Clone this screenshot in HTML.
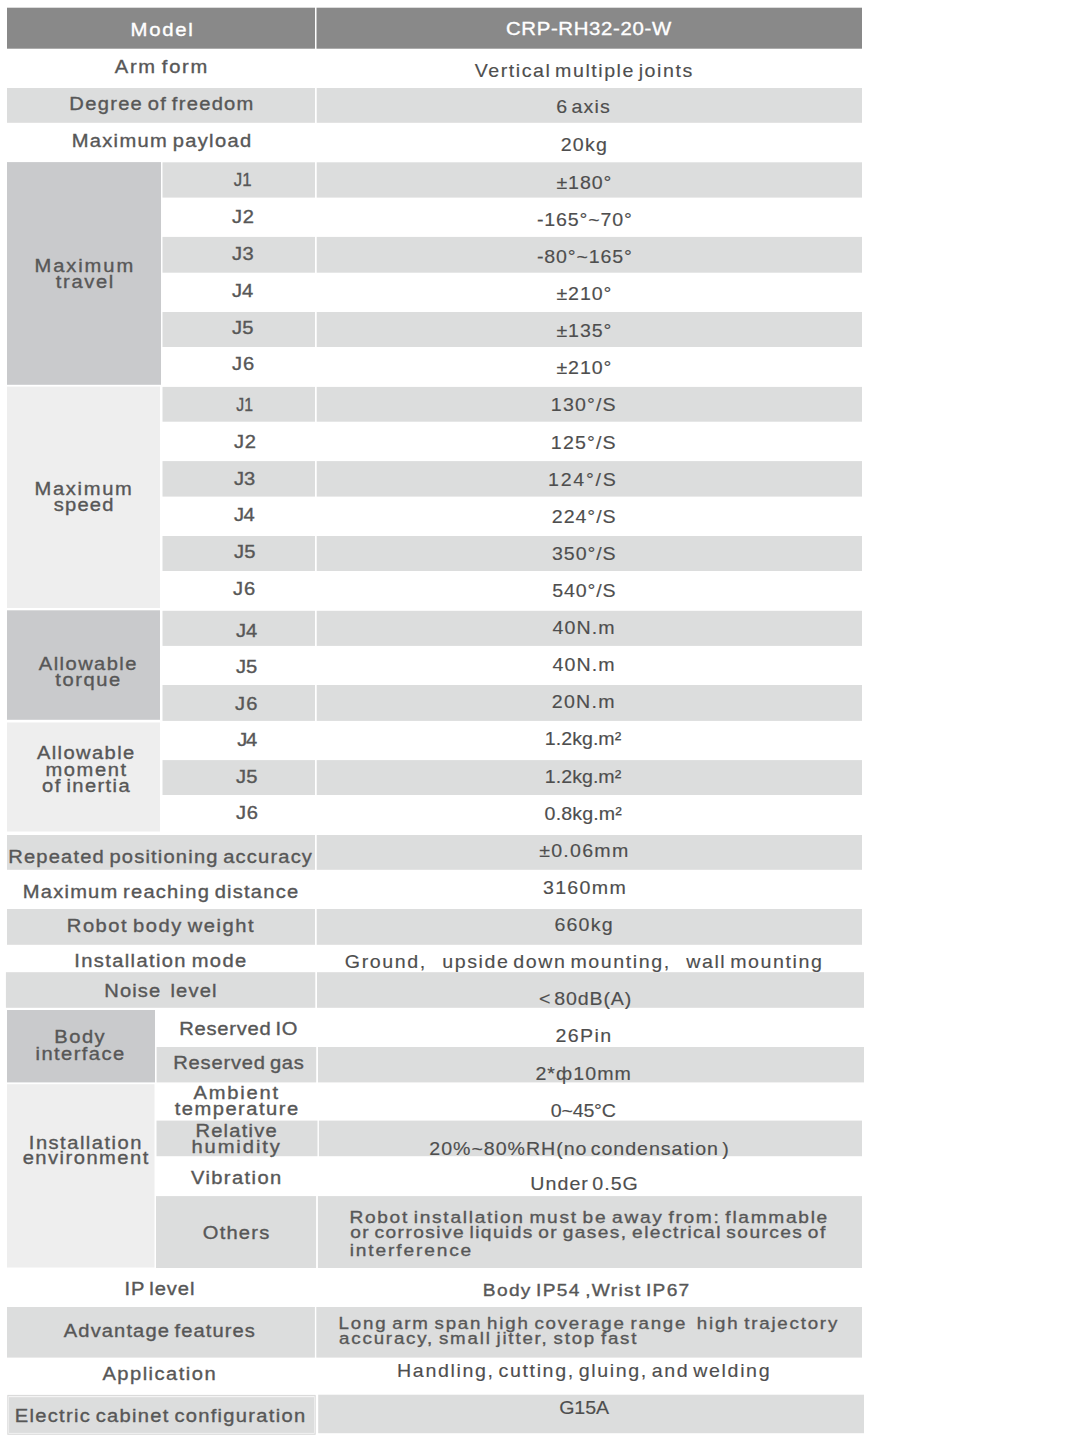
<!DOCTYPE html><html><head><meta charset="utf-8"><style>html,body{margin:0;padding:0;background:#fff;width:1084px;height:1444px;overflow:hidden}svg{display:block}text{font-family:"Liberation Sans",sans-serif;white-space:pre}</style></head><body>
<svg width="1084" height="1444" viewBox="0 0 1084 1444">
<rect x="7.00" y="7.70" width="308.00" height="41.00" fill="#898989"/>
<rect x="316.50" y="7.70" width="545.50" height="41.00" fill="#898989"/>
<rect x="7.00" y="88.00" width="308.00" height="34.80" fill="#dcdddd"/>
<rect x="316.70" y="88.00" width="545.30" height="34.80" fill="#dcdddd"/>
<rect x="7.00" y="162.10" width="154.00" height="222.70" fill="#c9cacc"/>
<rect x="162.50" y="162.30" width="152.50" height="35.30" fill="#dcdddd"/>
<rect x="316.70" y="162.30" width="545.30" height="35.30" fill="#dcdddd"/>
<rect x="162.50" y="236.90" width="152.50" height="35.80" fill="#dcdddd"/>
<rect x="316.70" y="236.90" width="545.30" height="35.80" fill="#dcdddd"/>
<rect x="162.50" y="312.00" width="152.50" height="35.00" fill="#dcdddd"/>
<rect x="316.70" y="312.00" width="545.30" height="35.00" fill="#dcdddd"/>
<rect x="7.00" y="386.60" width="153.00" height="221.40" fill="#eeeeee"/>
<rect x="162.50" y="386.90" width="152.50" height="34.80" fill="#dcdddd"/>
<rect x="316.70" y="386.90" width="545.30" height="34.80" fill="#dcdddd"/>
<rect x="162.50" y="461.10" width="152.50" height="35.50" fill="#dcdddd"/>
<rect x="316.70" y="461.10" width="545.30" height="35.50" fill="#dcdddd"/>
<rect x="162.50" y="536.00" width="152.50" height="35.00" fill="#dcdddd"/>
<rect x="316.70" y="536.00" width="545.30" height="35.00" fill="#dcdddd"/>
<rect x="7.00" y="610.30" width="153.00" height="109.50" fill="#c9cacc"/>
<rect x="162.50" y="610.80" width="152.50" height="35.10" fill="#dcdddd"/>
<rect x="316.70" y="610.80" width="545.30" height="35.10" fill="#dcdddd"/>
<rect x="162.50" y="685.00" width="152.50" height="35.90" fill="#dcdddd"/>
<rect x="316.70" y="685.00" width="545.30" height="35.90" fill="#dcdddd"/>
<rect x="7.00" y="722.50" width="153.00" height="109.00" fill="#eeeeee"/>
<rect x="162.50" y="760.10" width="152.50" height="34.90" fill="#dcdddd"/>
<rect x="316.70" y="760.10" width="545.30" height="34.90" fill="#dcdddd"/>
<rect x="7.00" y="835.00" width="308.00" height="34.80" fill="#dcdddd"/>
<rect x="316.70" y="835.00" width="545.30" height="34.80" fill="#dcdddd"/>
<rect x="7.00" y="909.00" width="308.00" height="35.80" fill="#dcdddd"/>
<rect x="316.70" y="909.00" width="545.30" height="35.80" fill="#dcdddd"/>
<rect x="5.90" y="972.20" width="309.40" height="35.60" fill="#dcdddd"/>
<rect x="317.00" y="972.20" width="547.00" height="35.60" fill="#dcdddd"/>
<rect x="7.00" y="1010.00" width="148.00" height="72.40" fill="#c9cacc"/>
<rect x="156.60" y="1047.00" width="159.60" height="35.40" fill="#dcdddd"/>
<rect x="318.00" y="1047.00" width="546.00" height="35.40" fill="#dcdddd"/>
<rect x="7.00" y="1084.20" width="147.50" height="183.30" fill="#eeeeee"/>
<rect x="156.50" y="1120.60" width="161.00" height="35.60" fill="#dcdddd"/>
<rect x="318.90" y="1120.60" width="543.10" height="35.60" fill="#dcdddd"/>
<rect x="156.00" y="1196.10" width="160.10" height="71.90" fill="#dcdddd"/>
<rect x="317.90" y="1196.10" width="544.10" height="71.90" fill="#dcdddd"/>
<rect x="7.00" y="1307.00" width="307.90" height="50.60" fill="#dcdddd"/>
<rect x="316.30" y="1307.00" width="545.70" height="50.60" fill="#dcdddd"/>
<rect x="7.30" y="1394.90" width="308.40" height="39.90" fill="#d9d9d9"/>
<rect x="8.30" y="1395.90" width="306.40" height="37.90" fill="#f4f4f4"/>
<rect x="9.00" y="1397.20" width="305.00" height="35.70" fill="#dcdddd"/>
<rect x="318.20" y="1394.70" width="545.80" height="38.50" fill="#dcdddd"/>
<text transform="translate(130.51 36.10) scale(1.100 1)" font-size="18.50" fill="#ffffff" stroke="#ffffff" stroke-width="0.35" word-spacing="-2.0" textLength="56.54" lengthAdjust="spacing">Model</text>
<text transform="translate(505.91 35.20) scale(1.100 1)" font-size="18.50" fill="#ffffff" stroke="#ffffff" stroke-width="0.35" word-spacing="-2.0" textLength="150.24" lengthAdjust="spacing">CRP-RH32-20-W</text>
<text transform="translate(114.85 73.00) scale(1.100 1)" font-size="18.30" fill="#575757" stroke="#575757" stroke-width="0.35" word-spacing="-2.0" textLength="83.92" lengthAdjust="spacing">Arm form</text>
<text transform="translate(474.73 76.70) scale(1.060 1)" font-size="18.50" fill="#4e4e4e" stroke="#4e4e4e" stroke-width="0.15" word-spacing="-3.0" textLength="205.15" lengthAdjust="spacing">Vertical multiple joints</text>
<text transform="translate(69.37 109.80) scale(1.100 1)" font-size="18.30" fill="#575757" stroke="#575757" stroke-width="0.35" word-spacing="-2.0" textLength="167.27" lengthAdjust="spacing">Degree of freedom</text>
<text transform="translate(556.19 113.10) scale(1.060 1)" font-size="18.50" fill="#4e4e4e" stroke="#4e4e4e" stroke-width="0.15" word-spacing="-3.0" textLength="50.58" lengthAdjust="spacing">6 axis</text>
<text transform="translate(71.71 146.90) scale(1.100 1)" font-size="18.30" fill="#575757" stroke="#575757" stroke-width="0.35" word-spacing="-2.0" textLength="163.07" lengthAdjust="spacing">Maximum payload</text>
<text transform="translate(560.76 151.00) scale(1.060 1)" font-size="18.50" fill="#4e4e4e" stroke="#4e4e4e" stroke-width="0.15" word-spacing="-3.0" textLength="43.44" lengthAdjust="spacing">20kg</text>
<text transform="translate(34.50 272.20) scale(1.100 1)" font-size="18.30" fill="#575757" stroke="#575757" stroke-width="0.35" word-spacing="-2.0" textLength="89.69" lengthAdjust="spacing">Maximum</text>
<text transform="translate(55.87 287.50) scale(1.100 1)" font-size="18.30" fill="#575757" stroke="#575757" stroke-width="0.35" word-spacing="-2.0" textLength="52.20" lengthAdjust="spacing">travel</text>
<text transform="translate(233.86 186.00) scale(1.000 1)" font-size="18.30" fill="#575757" stroke="#575757" stroke-width="0.35" word-spacing="-2.0" textLength="17.76" lengthAdjust="spacingAndGlyphs">J1</text>
<text transform="translate(556.45 189.00) scale(1.060 1)" font-size="18.50" fill="#4e4e4e" stroke="#4e4e4e" stroke-width="0.15" word-spacing="-3.0" textLength="51.75" lengthAdjust="spacing">±180°</text>
<text transform="translate(232.09 222.70) scale(1.100 1)" font-size="18.30" fill="#575757" stroke="#575757" stroke-width="0.35" word-spacing="-2.0" textLength="19.91" lengthAdjust="spacing">J2</text>
<text transform="translate(536.91 226.00) scale(1.060 1)" font-size="18.50" fill="#4e4e4e" stroke="#4e4e4e" stroke-width="0.15" word-spacing="-3.0" textLength="89.60" lengthAdjust="spacing">-165°~70°</text>
<text transform="translate(232.11 259.90) scale(1.100 1)" font-size="18.30" fill="#575757" stroke="#575757" stroke-width="0.35" word-spacing="-2.0" textLength="19.56" lengthAdjust="spacing">J3</text>
<text transform="translate(536.91 263.10) scale(1.060 1)" font-size="18.50" fill="#4e4e4e" stroke="#4e4e4e" stroke-width="0.15" word-spacing="-3.0" textLength="89.60" lengthAdjust="spacing">-80°~165°</text>
<text transform="translate(232.11 296.70) scale(1.100 1)" font-size="18.30" fill="#575757" stroke="#575757" stroke-width="0.35" word-spacing="-2.0" textLength="19.20" lengthAdjust="spacing">J4</text>
<text transform="translate(556.45 300.00) scale(1.060 1)" font-size="18.50" fill="#4e4e4e" stroke="#4e4e4e" stroke-width="0.15" word-spacing="-3.0" textLength="51.75" lengthAdjust="spacing">±210°</text>
<text transform="translate(232.11 333.50) scale(1.100 1)" font-size="18.30" fill="#575757" stroke="#575757" stroke-width="0.35" word-spacing="-2.0" textLength="19.43" lengthAdjust="spacing">J5</text>
<text transform="translate(556.45 336.60) scale(1.060 1)" font-size="18.50" fill="#4e4e4e" stroke="#4e4e4e" stroke-width="0.15" word-spacing="-3.0" textLength="51.75" lengthAdjust="spacing">±135°</text>
<text transform="translate(232.11 370.30) scale(1.100 1)" font-size="18.30" fill="#575757" stroke="#575757" stroke-width="0.35" word-spacing="-2.0" textLength="20.02" lengthAdjust="spacing">J6</text>
<text transform="translate(556.45 373.50) scale(1.060 1)" font-size="18.50" fill="#4e4e4e" stroke="#4e4e4e" stroke-width="0.15" word-spacing="-3.0" textLength="51.75" lengthAdjust="spacing">±210°</text>
<text transform="translate(34.50 495.10) scale(1.100 1)" font-size="18.30" fill="#575757" stroke="#575757" stroke-width="0.35" word-spacing="-2.0" textLength="88.52" lengthAdjust="spacing">Maximum</text>
<text transform="translate(53.84 510.50) scale(1.100 1)" font-size="18.30" fill="#575757" stroke="#575757" stroke-width="0.35" word-spacing="-2.0" textLength="54.12" lengthAdjust="spacing">speed</text>
<text transform="translate(236.34 410.80) scale(1.000 1)" font-size="18.30" fill="#575757" stroke="#575757" stroke-width="0.35" word-spacing="-2.0" textLength="16.69" lengthAdjust="spacingAndGlyphs">J1</text>
<text transform="translate(550.86 410.90) scale(1.060 1)" font-size="18.50" fill="#4e4e4e" stroke="#4e4e4e" stroke-width="0.15" word-spacing="-3.0" textLength="61.18" lengthAdjust="spacing">130°/S</text>
<text transform="translate(234.09 447.80) scale(1.100 1)" font-size="18.30" fill="#575757" stroke="#575757" stroke-width="0.35" word-spacing="-2.0" textLength="19.77" lengthAdjust="spacing">J2</text>
<text transform="translate(550.86 448.60) scale(1.060 1)" font-size="18.50" fill="#4e4e4e" stroke="#4e4e4e" stroke-width="0.15" word-spacing="-3.0" textLength="61.18" lengthAdjust="spacing">125°/S</text>
<text transform="translate(234.09 484.50) scale(1.100 1)" font-size="18.30" fill="#575757" stroke="#575757" stroke-width="0.35" word-spacing="-2.0" textLength="19.16" lengthAdjust="spacing">J3</text>
<text transform="translate(548.11 485.50) scale(1.060 1)" font-size="18.50" fill="#4e4e4e" stroke="#4e4e4e" stroke-width="0.15" word-spacing="-3.0" textLength="63.78" lengthAdjust="spacing">124°/S</text>
<text transform="translate(234.09 520.80) scale(1.100 1)" font-size="18.30" fill="#575757" stroke="#575757" stroke-width="0.35" word-spacing="-2.0" textLength="18.85" lengthAdjust="spacing">J4</text>
<text transform="translate(551.77 523.00) scale(1.060 1)" font-size="18.50" fill="#4e4e4e" stroke="#4e4e4e" stroke-width="0.15" word-spacing="-3.0" textLength="60.32" lengthAdjust="spacing">224°/S</text>
<text transform="translate(234.09 557.80) scale(1.100 1)" font-size="18.30" fill="#575757" stroke="#575757" stroke-width="0.35" word-spacing="-2.0" textLength="19.45" lengthAdjust="spacing">J5</text>
<text transform="translate(552.00 559.60) scale(1.060 1)" font-size="18.50" fill="#4e4e4e" stroke="#4e4e4e" stroke-width="0.15" word-spacing="-3.0" textLength="60.10" lengthAdjust="spacing">350°/S</text>
<text transform="translate(233.11 594.60) scale(1.100 1)" font-size="18.30" fill="#575757" stroke="#575757" stroke-width="0.35" word-spacing="-2.0" textLength="20.02" lengthAdjust="spacing">J6</text>
<text transform="translate(552.17 596.80) scale(1.060 1)" font-size="18.50" fill="#4e4e4e" stroke="#4e4e4e" stroke-width="0.15" word-spacing="-3.0" textLength="59.94" lengthAdjust="spacing">540°/S</text>
<text transform="translate(38.87 670.00) scale(1.100 1)" font-size="18.30" fill="#575757" stroke="#575757" stroke-width="0.35" word-spacing="-2.0" textLength="88.70" lengthAdjust="spacing">Allowable</text>
<text transform="translate(55.26 685.60) scale(1.100 1)" font-size="18.30" fill="#575757" stroke="#575757" stroke-width="0.35" word-spacing="-2.0" textLength="58.98" lengthAdjust="spacing">torque</text>
<text transform="translate(236.09 636.70) scale(1.100 1)" font-size="18.30" fill="#575757" stroke="#575757" stroke-width="0.35" word-spacing="-2.0" textLength="19.09" lengthAdjust="spacing">J4</text>
<text transform="translate(552.56 633.50) scale(1.060 1)" font-size="18.50" fill="#4e4e4e" stroke="#4e4e4e" stroke-width="0.15" word-spacing="-3.0" textLength="58.47" lengthAdjust="spacing">40N.m</text>
<text transform="translate(236.09 673.00) scale(1.100 1)" font-size="18.30" fill="#575757" stroke="#575757" stroke-width="0.35" word-spacing="-2.0" textLength="19.27" lengthAdjust="spacing">J5</text>
<text transform="translate(552.56 671.00) scale(1.060 1)" font-size="18.50" fill="#4e4e4e" stroke="#4e4e4e" stroke-width="0.15" word-spacing="-3.0" textLength="58.47" lengthAdjust="spacing">40N.m</text>
<text transform="translate(235.09 710.30) scale(1.100 1)" font-size="18.30" fill="#575757" stroke="#575757" stroke-width="0.35" word-spacing="-2.0" textLength="20.32" lengthAdjust="spacing">J6</text>
<text transform="translate(551.77 707.60) scale(1.060 1)" font-size="18.50" fill="#4e4e4e" stroke="#4e4e4e" stroke-width="0.15" word-spacing="-3.0" textLength="59.22" lengthAdjust="spacing">20N.m</text>
<text transform="translate(36.93 758.80) scale(1.100 1)" font-size="18.30" fill="#575757" stroke="#575757" stroke-width="0.35" word-spacing="-2.0" textLength="88.48" lengthAdjust="spacing">Allowable</text>
<text transform="translate(45.49 775.60) scale(1.100 1)" font-size="18.30" fill="#575757" stroke="#575757" stroke-width="0.35" word-spacing="-2.0" textLength="73.26" lengthAdjust="spacing">moment</text>
<text transform="translate(42.09 791.90) scale(1.100 1)" font-size="18.30" fill="#575757" stroke="#575757" stroke-width="0.35" word-spacing="-2.0" textLength="79.58" lengthAdjust="spacing">of inertia</text>
<text transform="translate(237.17 745.70) scale(1.100 1)" font-size="18.30" fill="#575757" stroke="#575757" stroke-width="0.35" word-spacing="-2.0" textLength="18.11" lengthAdjust="spacing">J4</text>
<text transform="translate(544.86 745.10) scale(1.060 1)" font-size="18.50" fill="#4e4e4e" stroke="#4e4e4e" stroke-width="0.15" word-spacing="-3.0" textLength="72.07" lengthAdjust="spacing">1.2kg.m²</text>
<text transform="translate(236.09 782.50) scale(1.100 1)" font-size="18.30" fill="#575757" stroke="#575757" stroke-width="0.35" word-spacing="-2.0" textLength="19.51" lengthAdjust="spacing">J5</text>
<text transform="translate(544.86 782.70) scale(1.060 1)" font-size="18.50" fill="#4e4e4e" stroke="#4e4e4e" stroke-width="0.15" word-spacing="-3.0" textLength="72.07" lengthAdjust="spacing">1.2kg.m²</text>
<text transform="translate(236.09 819.40) scale(1.100 1)" font-size="18.30" fill="#575757" stroke="#575757" stroke-width="0.35" word-spacing="-2.0" textLength="19.98" lengthAdjust="spacing">J6</text>
<text transform="translate(544.62 819.80) scale(1.060 1)" font-size="18.50" fill="#4e4e4e" stroke="#4e4e4e" stroke-width="0.15" word-spacing="-3.0" textLength="72.80" lengthAdjust="spacing">0.8kg.m²</text>
<text transform="translate(8.23 863.00) scale(1.100 1)" font-size="18.30" fill="#575757" stroke="#575757" stroke-width="0.35" word-spacing="-2.0" textLength="276.08" lengthAdjust="spacing">Repeated positioning accuracy</text>
<text transform="translate(539.22 857.00) scale(1.060 1)" font-size="18.50" fill="#4e4e4e" stroke="#4e4e4e" stroke-width="0.15" word-spacing="-3.0" textLength="83.99" lengthAdjust="spacing">±0.06mm</text>
<text transform="translate(22.80 897.90) scale(1.100 1)" font-size="18.30" fill="#575757" stroke="#575757" stroke-width="0.35" word-spacing="-2.0" textLength="250.31" lengthAdjust="spacing">Maximum reaching distance</text>
<text transform="translate(542.99 893.90) scale(1.060 1)" font-size="18.50" fill="#4e4e4e" stroke="#4e4e4e" stroke-width="0.15" word-spacing="-3.0" textLength="78.06" lengthAdjust="spacing">3160mm</text>
<text transform="translate(66.85 931.80) scale(1.100 1)" font-size="18.30" fill="#575757" stroke="#575757" stroke-width="0.35" word-spacing="-2.0" textLength="169.68" lengthAdjust="spacing">Robot body weight</text>
<text transform="translate(554.45 930.50) scale(1.060 1)" font-size="18.50" fill="#4e4e4e" stroke="#4e4e4e" stroke-width="0.15" word-spacing="-3.0" textLength="54.86" lengthAdjust="spacing">660kg</text>
<text transform="translate(74.26 966.70) scale(1.100 1)" font-size="18.30" fill="#575757" stroke="#575757" stroke-width="0.35" word-spacing="-2.0" textLength="156.26" lengthAdjust="spacing">Installation mode</text>
<text transform="translate(344.87 967.60) scale(1.060 1)" font-size="18.50" fill="#4e4e4e" stroke="#4e4e4e" stroke-width="0.15" word-spacing="-3.0" textLength="450.05" lengthAdjust="spacing">Ground,    upside down mounting,    wall mounting</text>
<text transform="translate(104.23 996.80) scale(1.100 1)" font-size="18.30" fill="#575757" stroke="#575757" stroke-width="0.35" word-spacing="-2.0" textLength="102.07" lengthAdjust="spacing">Noise  level</text>
<text transform="translate(538.94 1004.50) scale(1.060 1)" font-size="18.50" fill="#4e4e4e" stroke="#4e4e4e" stroke-width="0.15" word-spacing="-3.0" textLength="87.15" lengthAdjust="spacing">&lt; 80dB(A)</text>
<text transform="translate(54.37 1042.80) scale(1.100 1)" font-size="18.30" fill="#575757" stroke="#575757" stroke-width="0.35" word-spacing="-2.0" textLength="45.70" lengthAdjust="spacing">Body</text>
<text transform="translate(35.59 1059.60) scale(1.100 1)" font-size="18.30" fill="#575757" stroke="#575757" stroke-width="0.35" word-spacing="-2.0" textLength="80.50" lengthAdjust="spacing">interface</text>
<text transform="translate(179.23 1034.50) scale(1.100 1)" font-size="18.30" fill="#575757" stroke="#575757" stroke-width="0.35" word-spacing="-2.0" textLength="107.51" lengthAdjust="spacing">Reserved IO</text>
<text transform="translate(555.41 1042.40) scale(1.060 1)" font-size="18.50" fill="#4e4e4e" stroke="#4e4e4e" stroke-width="0.15" word-spacing="-3.0" textLength="52.49" lengthAdjust="spacing">26Pin</text>
<text transform="translate(173.26 1069.40) scale(1.100 1)" font-size="18.30" fill="#575757" stroke="#575757" stroke-width="0.35" word-spacing="-2.0" textLength="118.77" lengthAdjust="spacing">Reserved gas</text>
<text transform="translate(535.41 1079.70) scale(1.060 1)" font-size="18.50" fill="#4e4e4e" stroke="#4e4e4e" stroke-width="0.15" word-spacing="-3.0" textLength="90.12" lengthAdjust="spacing">2*ф10mm</text>
<text transform="translate(28.83 1148.80) scale(1.100 1)" font-size="18.30" fill="#575757" stroke="#575757" stroke-width="0.35" word-spacing="-2.0" textLength="102.35" lengthAdjust="spacing">Installation</text>
<text transform="translate(22.70 1164.40) scale(1.100 1)" font-size="18.30" fill="#575757" stroke="#575757" stroke-width="0.35" word-spacing="-2.0" textLength="114.20" lengthAdjust="spacing">environment</text>
<text transform="translate(193.53 1098.90) scale(1.100 1)" font-size="18.30" fill="#575757" stroke="#575757" stroke-width="0.35" word-spacing="-2.0" textLength="76.86" lengthAdjust="spacing">Ambient</text>
<text transform="translate(174.74 1114.80) scale(1.100 1)" font-size="18.30" fill="#575757" stroke="#575757" stroke-width="0.35" word-spacing="-2.0" textLength="112.18" lengthAdjust="spacing">temperature</text>
<text transform="translate(550.87 1117.10) scale(1.060 1)" font-size="18.50" fill="#4e4e4e" stroke="#4e4e4e" stroke-width="0.15" word-spacing="-3.0" textLength="61.28" lengthAdjust="spacing">0~45°C</text>
<text transform="translate(195.42 1137.00) scale(1.100 1)" font-size="18.30" fill="#575757" stroke="#575757" stroke-width="0.35" word-spacing="-2.0" textLength="73.89" lengthAdjust="spacing">Relative</text>
<text transform="translate(191.41 1152.60) scale(1.100 1)" font-size="18.30" fill="#575757" stroke="#575757" stroke-width="0.35" word-spacing="-2.0" textLength="80.41" lengthAdjust="spacing">humidity</text>
<text transform="translate(429.32 1154.50) scale(1.060 1)" font-size="18.50" fill="#4e4e4e" stroke="#4e4e4e" stroke-width="0.15" word-spacing="-3.0" textLength="282.43" lengthAdjust="spacing">20%~80%RH(no condensation )</text>
<text transform="translate(190.93 1183.60) scale(1.100 1)" font-size="18.30" fill="#575757" stroke="#575757" stroke-width="0.35" word-spacing="-2.0" textLength="82.11" lengthAdjust="spacing">Vibration</text>
<text transform="translate(530.33 1190.40) scale(1.060 1)" font-size="18.50" fill="#4e4e4e" stroke="#4e4e4e" stroke-width="0.15" word-spacing="-3.0" textLength="101.41" lengthAdjust="spacing">Under 0.5G</text>
<text transform="translate(202.79 1238.80) scale(1.100 1)" font-size="18.30" fill="#575757" stroke="#575757" stroke-width="0.35" word-spacing="-2.0" textLength="60.39" lengthAdjust="spacing">Others</text>
<text transform="translate(349.39 1222.80) scale(1.100 1)" font-size="17.40" fill="#575757" stroke="#575757" stroke-width="0.35" word-spacing="-2.0" textLength="434.43" lengthAdjust="spacing">Robot installation must be away from: flammable</text>
<text transform="translate(350.13 1238.40) scale(1.100 1)" font-size="17.40" fill="#575757" stroke="#575757" stroke-width="0.35" word-spacing="-2.0" textLength="431.94" lengthAdjust="spacing">or corrosive liquids or gases, electrical sources of</text>
<text transform="translate(349.67 1255.60) scale(1.100 1)" font-size="17.40" fill="#575757" stroke="#575757" stroke-width="0.35" word-spacing="-2.0" textLength="110.54" lengthAdjust="spacing">interference</text>
<text transform="translate(124.57 1295.10) scale(1.100 1)" font-size="18.30" fill="#575757" stroke="#575757" stroke-width="0.35" word-spacing="-2.0" textLength="63.50" lengthAdjust="spacing">IP level</text>
<text transform="translate(482.87 1295.90) scale(1.100 1)" font-size="17.40" fill="#575757" stroke="#575757" stroke-width="0.35" word-spacing="-2.0" textLength="187.61" lengthAdjust="spacing">Body IP54 ,Wrist IP67</text>
<text transform="translate(63.85 1337.30) scale(1.100 1)" font-size="18.30" fill="#575757" stroke="#575757" stroke-width="0.35" word-spacing="-2.0" textLength="173.68" lengthAdjust="spacing">Advantage features</text>
<text transform="translate(338.57 1328.70) scale(1.100 1)" font-size="17.00" fill="#575757" stroke="#575757" stroke-width="0.35" word-spacing="-2.0" textLength="453.34" lengthAdjust="spacing">Long arm span high coverage range  high trajectory</text>
<text transform="translate(339.12 1344.20) scale(1.100 1)" font-size="17.00" fill="#575757" stroke="#575757" stroke-width="0.35" word-spacing="-2.0" textLength="270.33" lengthAdjust="spacing">accuracy, small jitter, stop fast</text>
<text transform="translate(102.40 1379.50) scale(1.100 1)" font-size="18.30" fill="#575757" stroke="#575757" stroke-width="0.35" word-spacing="-2.0" textLength="102.98" lengthAdjust="spacing">Application</text>
<text transform="translate(397.08 1377.10) scale(1.060 1)" font-size="18.50" fill="#4e4e4e" stroke="#4e4e4e" stroke-width="0.15" word-spacing="-3.0" textLength="351.39" lengthAdjust="spacing">Handling, cutting, gluing, and welding</text>
<text transform="translate(14.80 1421.50) scale(1.100 1)" font-size="18.30" fill="#575757" stroke="#575757" stroke-width="0.35" word-spacing="-2.0" textLength="263.95" lengthAdjust="spacing">Electric cabinet configuration</text>
<text transform="translate(559.22 1413.50) scale(1.060 1)" font-size="18.50" fill="#4e4e4e" stroke="#4e4e4e" stroke-width="0.15" word-spacing="-3.0" textLength="46.97" lengthAdjust="spacing">G15A</text>
</svg></body></html>
